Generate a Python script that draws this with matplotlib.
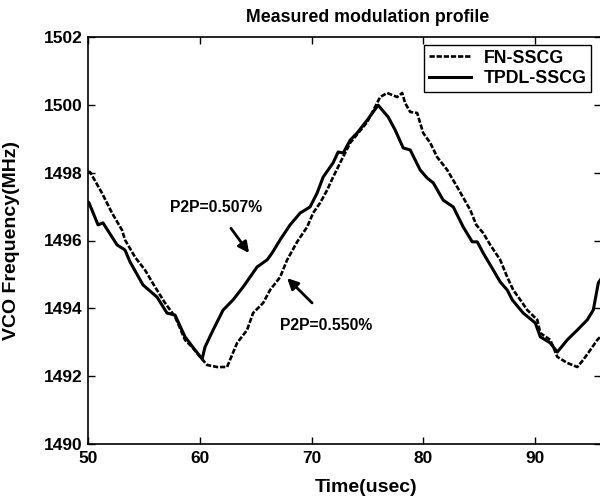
import matplotlib
matplotlib.use("Agg")
import matplotlib.pyplot as plt

plt.rcParams['font.family'] = ['Liberation Sans', 'DejaVu Sans']
plt.rcParams['font.weight'] = 'bold'

# TPDL-SSCG (solid line)
tpdl_time = [50.0, 50.09, 50.90, 51.34, 52.60, 53.31, 53.76, 54.92, 56.18, 57.07,
             57.79, 58.68, 59.58, 60.21, 60.47, 61.19, 62.09, 62.98, 63.88, 65.13,
             66.03, 66.47, 67.19, 68.08, 68.98, 69.87, 70.50, 71.04, 71.93, 72.38,
             72.83, 73.46, 74.08, 74.98, 75.96, 76.86, 77.48, 78.20, 78.83, 79.72,
             80.35, 80.89, 81.78, 82.68, 83.57, 84.38, 84.83, 85.36, 86.26, 86.88,
             87.51, 87.96, 88.94, 90.02, 90.47, 91.36, 91.99, 92.88, 93.78, 94.67,
             95.21, 95.66, 95.84]
tpdl_freq = [1497.14, 1497.11, 1496.46, 1496.52, 1495.87, 1495.72, 1495.37, 1494.69, 1494.33, 1493.86,
             1493.80, 1493.16, 1492.77, 1492.51, 1492.86, 1493.36, 1493.95, 1494.25, 1494.63, 1495.22,
             1495.43, 1495.63, 1496.02, 1496.46, 1496.81, 1496.99, 1497.40, 1497.87, 1498.29, 1498.61,
             1498.58, 1498.96, 1499.17, 1499.55, 1499.99, 1499.64, 1499.26, 1498.73, 1498.67, 1498.08,
             1497.84, 1497.70, 1497.19, 1496.99, 1496.40, 1495.96, 1495.96, 1495.63, 1495.13, 1494.78,
             1494.54, 1494.25, 1493.86, 1493.57, 1493.16, 1492.98, 1492.71, 1493.07, 1493.36, 1493.66,
             1493.95, 1494.75, 1494.84]

# FN-SSCG (dotted line)
fn_time = [50.0, 50.18, 51.25, 52.15, 53.04, 53.31, 54.21, 55.10, 56.00, 56.89,
           57.79, 58.68, 59.31, 60.03, 60.65, 61.55, 62.44, 62.71, 63.34, 64.23,
           64.77, 65.67, 66.29, 67.19, 67.82, 68.71, 69.61, 70.14, 70.77, 71.40,
           71.93, 72.56, 73.46, 74.98, 76.14, 76.77, 77.66, 78.11, 78.38, 78.83,
           79.45, 79.99, 80.62, 81.24, 82.14, 83.03, 84.20, 84.74, 85.36, 85.99,
           86.88, 87.51, 88.05, 88.68, 89.30, 90.20, 90.47, 91.36, 91.99, 92.88,
           93.78, 94.31, 94.94, 95.57, 95.84]
fn_freq = [1498.02, 1498.02, 1497.40, 1496.81, 1496.31, 1496.02, 1495.51, 1495.13, 1494.63, 1494.16,
           1493.75, 1493.07, 1492.86, 1492.57, 1492.33, 1492.27, 1492.27, 1492.48, 1492.98, 1493.36,
           1493.86, 1494.16, 1494.54, 1494.92, 1495.43, 1495.96, 1496.40, 1496.81, 1497.11, 1497.49,
           1497.87, 1498.29, 1498.88, 1499.49, 1500.23, 1500.35, 1500.23, 1500.35, 1500.05, 1499.79,
           1499.76, 1499.17, 1498.88, 1498.46, 1498.08, 1497.58, 1496.90, 1496.46, 1496.22, 1495.87,
           1495.43, 1494.92, 1494.54, 1494.25, 1493.95, 1493.66, 1493.27, 1493.07, 1492.57, 1492.39,
           1492.27, 1492.48, 1492.77, 1493.07, 1493.16]

x_ticks = [50, 60, 70, 80, 90]
y_ticks = [1490, 1492, 1494, 1496, 1498, 1500, 1502]

fig = plt.figure(figsize=(6.0, 5.01), dpi=100)
ax = fig.add_axes([88 / 600, 1 - 444 / 501, 513 / 600, 407 / 501])

ax.plot(fn_time, fn_freq, color='k', lw=1.9, linestyle=(0, (2.0, 0.7)), label='FN-SSCG')
ax.plot(tpdl_time, tpdl_freq, color='k', lw=2.2, label='TPDL-SSCG')

ax.set_xlim(50, 95.9)
ax.set_ylim(1490, 1502)
ax.set_xticks(x_ticks)
ax.set_yticks(y_ticks)
ax.tick_params(direction='in', top=True, right=True, length=5, width=1,
               labelsize=12.5)
ax.tick_params(axis='y', pad=4)
ax.tick_params(axis='x', pad=5)
for s in ax.spines.values():
    s.set_linewidth(1.2)

ax.set_xlabel('Time(usec)', fontsize=14, fontweight='bold')
ax.xaxis.set_label_coords(0.542, -0.085)
ax.set_ylabel('VCO Frequency(MHz)', fontsize=14, fontweight='bold')
ax.yaxis.set_label_coords(-0.1326, 0.499)
fig.text(0.612, 0.966, 'Measured modulation profile', ha='center', va='center',
         fontsize=12.8, fontweight='bold')

ax.annotate('P2P=0.507%', xy=(64.41, 1495.63), xytext=(61.46, 1496.96),
            ha='center', va='center', fontsize=11.3, fontweight='bold',
            arrowprops=dict(arrowstyle='-|>', lw=2, color='k', mutation_scale=16,
                            shrinkA=9, shrinkB=0))
ax.annotate('', xy=(67.82, 1494.89), xytext=(70.05, 1494.16),
            arrowprops=dict(arrowstyle='-|>', lw=2, color='k', mutation_scale=16,
                            shrinkA=0, shrinkB=0))
ax.text(71.31, 1493.48, 'P2P=0.550%', ha='center', va='center',
        fontsize=11.3, fontweight='bold')

leg = ax.legend(loc='upper right', bbox_to_anchor=(0.981, 0.980), borderaxespad=0,
                fancybox=False, edgecolor='k', framealpha=1, handlelength=2.4,
                prop={'size': 12.8, 'weight': 'bold'}, borderpad=0.25,
                labelspacing=0.2, handletextpad=0.7)
leg.get_frame().set_linewidth(1.0)

fig.savefig('out.png', dpi=100)
